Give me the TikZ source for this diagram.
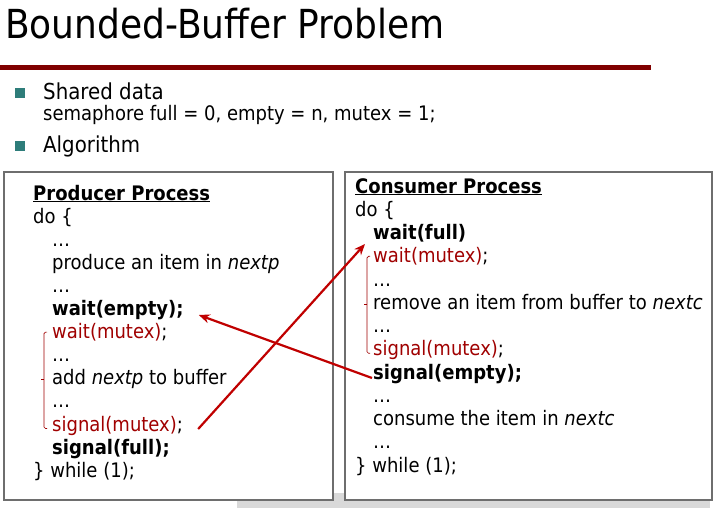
\documentclass[tikz,border=0pt]{standalone}
\usepackage{fontspec}
\setmainfont{DejaVu Sans}[FakeStretch=0.9]
\usetikzlibrary{arrows.meta}
\definecolor{slidered}{HTML}{800000}
\definecolor{codered}{HTML}{A00000}
\definecolor{arrowred}{HTML}{C00000}
\definecolor{bulletteal}{HTML}{2E7D7A}
\definecolor{boxgray}{HTML}{6E6E6E}
\definecolor{shadowgray}{HTML}{D9D9D9}

\begin{document}
\begin{tikzpicture}[x=1pt,y=-1pt,
  line/.style={anchor=base west,inner sep=0pt,font=\fontsize{20}{23}\selectfont},
  bigline/.style={line,font=\fontsize{22}{26}\selectfont},
  bullet/.style={fill=bulletteal,inner sep=0pt,minimum size=10pt},
  boxframe/.style={draw=boxgray,line width=1.4pt,fill=white},
  brace/.style={draw=codered,line width=0.7pt,rounded corners=1.5pt},
  sync/.style={draw=arrowred,line width=2.2pt,-{Stealth[length=11pt,width=9pt]}}]
\useasboundingbox (0,0) rectangle (720,508);
\fill[white] (0,0) rectangle (720,508);

\node [anchor=base west,inner sep=0pt,font=\fontsize{40}{48}\selectfont] (title) at (5,39) {Bounded-Buffer Problem};
\draw [slidered,line width=4.5pt] (0,67.5) -- (651,67.5);

\node [bullet] (b-1) at (20,93) {};
\node [bigline] (shared) at (43,100) {Shared data};
\node [line] (sem) at (43,121) {semaphore full = 0, empty = n, mutex = 1;};
\node [bullet] (b-2) at (20,146.5) {};
\node [bigline] (algo) at (43,153) {Algorithm};

\fill [shadowgray] (237,493) rectangle (710,508);
\draw [boxframe] (4,172) rectangle (333,500);
\draw [boxframe] (345,172) rectangle (712,500);

\node [line] (p-1) at (33,200) {\textbf{\underline{Producer Process}}};
\node [line] (p-2) at (33,223.1) {do \{};
\node [line] (p-3) at (52,246.2) {…};
\node [line] (p-4) at (52,269.3) {produce an item in \textit{nextp}};
\node [line] (p-5) at (52,292.4) {…};
\node [line] (p-6) at (52,315.5) {\textbf{wait(empty);}};
\node [line] (p-7) at (52,338.6) {{\color{codered}wait(mutex)};};
\node [line] (p-8) at (52,361.7) {…};
\node [line] (p-9) at (52,384.8) {add \textit{nextp} to buffer};
\node [line] (p-10) at (52,407.9) {…};
\node [line] (p-11) at (52,431) {{\color{codered}signal(mutex)};};
\node [line] (p-12) at (52,454.1) {\textbf{signal(full);}};
\node [line] (p-13) at (33,477.2) {\} while (1);};

\node [line] (c-1) at (355,193) {\textbf{\underline{Consumer Process}}};
\node [line] (c-2) at (355,216.25) {do \{};
\node [line] (c-3) at (373,239.5) {\textbf{wait(full)}};
\node [line] (c-4) at (373,262.75) {{\color{codered}wait(mutex)};};
\node [line] (c-5) at (373,286) {…};
\node [line] (c-6) at (373,309.25) {remove an item from buffer to \textit{nextc}};
\node [line] (c-7) at (373,332.5) {…};
\node [line] (c-8) at (373,355.75) {{\color{codered}signal(mutex)};};
\node [line] (c-9) at (373,379) {\textbf{signal(empty);}};
\node [line] (c-10) at (373,402.25) {…};
\node [line] (c-11) at (373,425.5) {consume the item in \textit{nextc}};
\node [line] (c-12) at (373,448.75) {…};
\node [line] (c-13) at (355,472) {\} while (1);};

\draw [brace] ([shift={(-5pt,6.5pt)}]p-7.base west) -- ([shift={(-8pt,6.5pt)}]p-7.base west) -- ([shift={(-8pt,2.5pt)}]p-11.base west) -- ([shift={(-5pt,2.5pt)}]p-11.base west);
\draw [brace] ([shift={(-8pt,5pt)}]p-9.base west) -- ([shift={(-11pt,5pt)}]p-9.base west);
\draw [brace] ([shift={(-3pt,6.5pt)}]c-4.base west) -- ([shift={(-6pt,6.5pt)}]c-4.base west) -- ([shift={(-6pt,2.5pt)}]c-8.base west) -- ([shift={(-3pt,2.5pt)}]c-8.base west);
\draw [brace] ([shift={(-6pt,5pt)}]c-6.base west) -- ([shift={(-9pt,5pt)}]c-6.base west);

\draw [sync] ([shift={(15pt,2pt)}]p-11.base east) -- ([shift={(-8pt,-4.5pt)}]c-3.base west);
\draw [sync] ([shift={(-1pt,1pt)}]c-9.base west) -- ([shift={(15pt,0.5pt)}]p-6.base east);
\end{tikzpicture}
\end{document}
